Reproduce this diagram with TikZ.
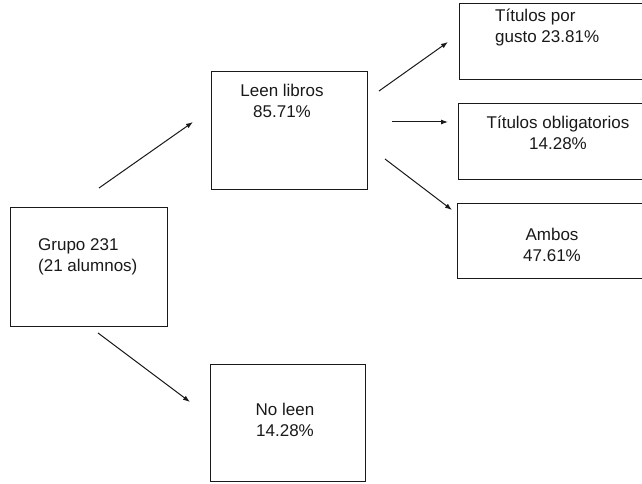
\documentclass[tikz,border=0pt]{standalone}
\usepackage{fontspec}
\setmainfont{Liberation Sans}
\usetikzlibrary{arrows.meta}
\begin{document}
\begin{tikzpicture}[x=1pt,y=1pt,
  box/.style={draw=black!90, line width=1.2pt, rectangle, inner sep=0pt, anchor=south west},
  lbl/.style={inner sep=0pt, font=\fontsize{17}{21}\selectfont, text=black!90},
  arr/.style={draw=black!90, line width=1pt, -{Latex[length=7pt,width=5pt]}}]
\useasboundingbox (0,0) rectangle (642,484);
\clip (0,0) rectangle (642,484);
% boxes
\node[box, minimum width=157pt, minimum height=119pt] (grupo) at (10,157) {};
\node[box, minimum width=156pt, minimum height=118pt] (leen) at (211,294) {};
\node[box, minimum width=155pt, minimum height=117pt] (noleen) at (210,1.5) {};
\node[box, minimum width=210pt, minimum height=76pt] (tit1) at (459,404) {};
\node[box, minimum width=210pt, minimum height=76pt] (tit2) at (458,304) {};
\node[box, minimum width=210pt, minimum height=75pt] (ambos) at (457,205) {};
% texts (anchor = baseline of last line)
\node[lbl, anchor=base west, align=left] (tgrupo) at (38,212) {Grupo 231\\(21 alumnos)};
\node[lbl, anchor=base, align=center] (tleen) at (282,366) {Leen libros\\85.71\%};
\node[lbl, anchor=base west, align=left] (ttit1) at (495,441) {Títulos por\\gusto 23.81\%};
\node[lbl, anchor=base, align=center] (ttit2) at (558,334) {Títulos obligatorios\\14.28\%};
\node[lbl, anchor=base, align=center] (tambos) at (552,222) {Ambos\\47.61\%};
\node[lbl, anchor=base, align=center] (tnoleen) at (285,47) {No leen\\14.28\%};
% arrow end points
\coordinate (a1s) at (99,296);  \coordinate (a1e) at (193,362);
\coordinate (a2s) at (98,151);  \coordinate (a2e) at (190,82);
\coordinate (a3s) at (379,393); \coordinate (a3e) at (448,442);
\coordinate (a4s) at (392,362); \coordinate (a4e) at (448,362);
\coordinate (a5s) at (385,325); \coordinate (a5e) at (452,274);
\draw[arr] (a1s) -- (a1e);
\draw[arr] (a2s) -- (a2e);
\draw[arr] (a3s) -- (a3e);
\draw[arr] (a4s) -- (a4e);
\draw[arr] (a5s) -- (a5e);
\end{tikzpicture}
\end{document}
